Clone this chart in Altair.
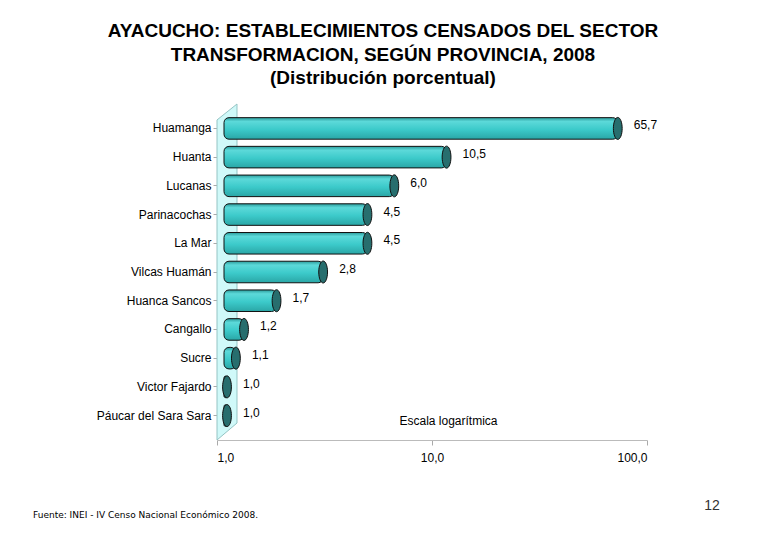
import altair as alt
import pandas as pd

provincias = ["Huamanga", "Huanta", "Lucanas", "Parinacochas", "La Mar",
              "Vilcas Huamán", "Huanca Sancos", "Cangallo", "Sucre",
              "Victor Fajardo", "Páucar del Sara Sara"]
valores = [65.7, 10.5, 6.0, 4.5, 4.5, 2.8, 1.7, 1.2, 1.1, 1.0, 1.0]
ticks_x = [1, 10, 100]

titulo = ["AYACUCHO: ESTABLECIMIENTOS CENSADOS DEL SECTOR",
          "TRANSFORMACION, SEGÚN PROVINCIA, 2008",
          "(Distribución porcentual)"]
fuente = "Fuente: INEI - IV Censo Nacional Económico 2008."
pagina = "12"
escala = "Escala logarítmica"

df = pd.DataFrame({"provincia": provincias, "valor": valores, "base": [1.0] * len(valores)})
one = pd.DataFrame({"k": [0]})

FONT = "Liberation Sans"

xscale = alt.Scale(type="log", domain=[1, 100])
yscale = alt.Scale(domain=provincias, paddingInner=0.25, paddingOuter=0.475)

# back wall (3D) as a custom symbol
wall = alt.Chart(one).mark_point(
    shape="M-0.0595,-0.905 L0.0595,-1 L0.0595,0.899 L-0.0595,1 Z",
    filled=True, fill="#d0f9f9", stroke="#94c4c4", strokeWidth=1, opacity=1,
).encode(x=alt.value(10), y=alt.value(168), size=alt.value(112896))

grad = alt.Gradient(
    gradient="linear", x1=0, x2=0, y1=0, y2=1,
    stops=[alt.GradientStop(color="#2c9c9c", offset=0),
           alt.GradientStop(color="#5cd9d9", offset=0.18),
           alt.GradientStop(color="#3ccaca", offset=0.55),
           alt.GradientStop(color="#2aa6a6", offset=1)],
)

bars = alt.Chart(df).mark_bar(
    color=grad, stroke="#111", strokeWidth=1, cornerRadius=5,
    xOffset=7, x2Offset=10,
).encode(
    x=alt.X("base:Q", scale=xscale, axis=alt.Axis(
        values=ticks_x, grid=False, tickColor="#aaaaaa", domainColor="#bbbbbb",
        tickSize=5, labelPadding=7, labelFontSize=12, labelFont=FONT, labelColor="#000",
        labelExpr="replace(format(datum.value, '.1f'), '.', ',')",
        title=escala, titleX=231, titleY=-20, titleFontWeight="normal",
        titleFontSize=12, titleFont=FONT, titleColor="#000",
        titleAlign="center", titleBaseline="middle")),
    x2="valor:Q",
    y=alt.Y("provincia:N", scale=yscale, sort=provincias, axis=alt.Axis(
        title=None, domain=False, tickColor="#aaaaaa", tickSize=4, labelPadding=2,
        labelFontSize=12, labelFont=FONT, labelColor="#000")),
)

caps = alt.Chart(df).mark_point(
    shape="M0,-1 A0.4,1 0 1,1 0,1 A0.4,1 0 1,1 0,-1 Z",
    filled=True, fill="#276e6e", stroke="#111", strokeWidth=1, opacity=1, xOffset=10,
).encode(
    x=alt.X("valor:Q", scale=xscale),
    y=alt.Y("provincia:N", scale=yscale, sort=provincias),
    size=alt.value(484),
)

labels = alt.Chart(df).transform_calculate(
    etiqueta="replace(format(datum.valor, '.1f'), '.', ',')"
).mark_text(
    align="left", baseline="middle", dx=26, dy=-3, fontSize=12, font=FONT, color="#000",
).encode(
    x=alt.X("valor:Q", scale=xscale),
    y=alt.Y("provincia:N", scale=yscale, sort=provincias),
    text="etiqueta:N",
)

foot = alt.Chart(one).mark_text(
    text=fuente, align="left", baseline="middle", fontSize=9, font="DejaVu Sans", color="#000",
).encode(x=alt.value(-184), y=alt.value(411))

page = alt.Chart(one).mark_text(
    text=pagina, align="center", baseline="middle", fontSize=14, font=FONT, color="#333",
).encode(x=alt.value(495), y=alt.value(402))

chart = alt.layer(wall, bars, caps, labels, foot, page).properties(
    width=430, height=336,
    padding={"left": 209, "top": 96, "right": 105, "bottom": 80},
    autosize=alt.AutoSizeParams(type="none"),
    title=alt.TitleParams(
        text=titulo, fontSize=19, font=FONT, fontWeight="bold", color="#000",
        lineHeight=23.5, anchor="middle", dx=-49, offset=14),
).configure_view(strokeWidth=0)

chart.save("out.html", embed_options={"renderer": "svg", "actions": False})
